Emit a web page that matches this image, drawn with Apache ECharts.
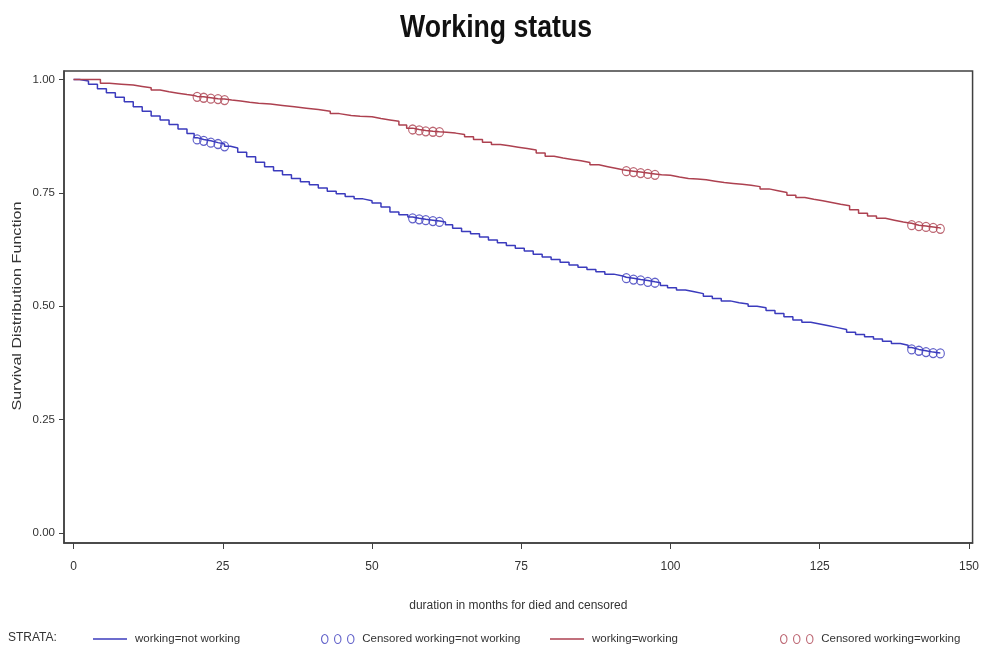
<!DOCTYPE html>
<html>
<head>
<meta charset="utf-8">
<title>Working status</title>
<script src="https://cdn.jsdelivr.net/npm/echarts@6/dist/echarts.min.js"></script>
<style>
  html, body { margin: 0; padding: 0; background: #ffffff; }
  #chart { width: 982px; height: 652px; }
</style>
</head>
<body>
<div id="chart"></div>
<script>
// Kaplan-Meier survival estimates by working status (months, survival probability)
const notWorkingMonths = [0, 1, 2.5, 4, 5.5, 7, 8.5, 10, 11.5, 13, 14.5, 16, 17.5, 19, 20.2,
  26.3, 27.5, 29, 30.5, 32, 33.5, 35, 36.5, 38, 39.5, 41, 42.5, 44, 45.5, 47, 48.5, 50, 51.5, 53, 54.5, 56,
  62.3, 63.5, 65, 66.5, 68, 69.5, 71, 72.5, 74, 75.5, 77, 78.5, 80, 81.5, 83, 84.5, 86, 87.5, 89, 90.5, 92,
  98.3, 99.5, 101, 102.5, 104, 105.5, 107, 108.5, 110, 111.5, 113, 114.5, 116, 117.5, 119, 120.5, 122, 123.5,
  125, 126.5, 128, 129.5, 131, 132.5, 134, 135.5, 137, 138.5, 139.8];
const notWorkingSurv = [1.000, 0.997, 0.990, 0.980, 0.971, 0.961, 0.951, 0.940, 0.930, 0.920, 0.911, 0.901, 0.891, 0.881, 0.872,
  0.849, 0.840, 0.830, 0.818, 0.808, 0.799, 0.790, 0.782, 0.775, 0.768, 0.761, 0.754, 0.748, 0.742, 0.737, 0.733, 0.728, 0.719, 0.708, 0.702, 0.697,
  0.680, 0.672, 0.665, 0.660, 0.653, 0.646, 0.640, 0.634, 0.628, 0.622, 0.615, 0.609, 0.603, 0.597, 0.591, 0.586, 0.581, 0.576, 0.571, 0.567, 0.564,
  0.546, 0.541, 0.536, 0.532, 0.528, 0.522, 0.517, 0.512, 0.508, 0.505, 0.500, 0.497, 0.491, 0.484, 0.477, 0.470, 0.465, 0.461,
  0.457, 0.453, 0.449, 0.443, 0.438, 0.433, 0.428, 0.423, 0.418, 0.414, 0.409];
const notWorkingCensMonths = [20.7, 21.8, 23.0, 24.2, 25.3, 56.8, 57.9, 59.0, 60.2, 61.3,
  92.6, 93.8, 95.0, 96.2, 97.4, 140.4, 141.6, 142.8, 144.0, 145.2];
const notWorkingCensSurv = [0.868, 0.865, 0.861, 0.858, 0.853, 0.694, 0.692, 0.690, 0.688, 0.686,
  0.562, 0.559, 0.557, 0.554, 0.552, 0.405, 0.402, 0.399, 0.397, 0.396];

const workingMonths = [0, 4, 4.5, 6, 8, 10, 11.5, 13, 14.5, 16, 17.5, 19, 20.2,
  26.5, 28, 29.5, 31, 33, 35, 37, 39, 41, 43, 44.5, 46.5, 48, 50, 51.5, 53, 54.5, 55.8,
  62.5, 64, 65.5, 67, 68.5, 70, 71.5, 73, 74.5, 76, 77.5, 79, 80.5, 82, 83.5, 85, 86.5, 88, 89.5, 91, 92,
  98.5, 100, 101.5, 103, 104.5, 106, 107.5, 109, 110.5, 112, 113.5, 115, 116.5, 118, 119.5, 121, 122.5,
  124, 125.5, 127, 128.5, 130, 131.5, 133, 134.5, 136, 137.5, 139, 140];
const workingSurv = [1.000, 1.000, 0.992, 0.990, 0.988, 0.985, 0.982, 0.977, 0.973, 0.970, 0.967, 0.965, 0.963,
  0.953, 0.950, 0.948, 0.946, 0.943, 0.940, 0.937, 0.934, 0.930, 0.925, 0.921, 0.919, 0.918, 0.914, 0.911, 0.908, 0.900, 0.893,
  0.882, 0.879, 0.874, 0.868, 0.862, 0.857, 0.854, 0.851, 0.848, 0.845, 0.838, 0.831, 0.827, 0.824, 0.821, 0.817, 0.812, 0.808, 0.804, 0.801, 0.800,
  0.789, 0.785, 0.782, 0.781, 0.779, 0.776, 0.773, 0.771, 0.769, 0.767, 0.764, 0.759, 0.755, 0.751, 0.745, 0.740, 0.736,
  0.733, 0.729, 0.725, 0.722, 0.713, 0.705, 0.699, 0.694, 0.690, 0.686, 0.684, 0.683];
const workingCensMonths = [20.7, 21.8, 23.0, 24.2, 25.3, 56.8, 57.9, 59.0, 60.2, 61.3,
  92.6, 93.8, 95.0, 96.2, 97.4, 140.4, 141.6, 142.8, 144.0, 145.2];
const workingCensSurv = [0.962, 0.960, 0.958, 0.957, 0.955, 0.890, 0.888, 0.886, 0.885, 0.884,
  0.798, 0.796, 0.794, 0.792, 0.790, 0.679, 0.677, 0.675, 0.673, 0.671];

const xTicks = [0, 25, 50, 75, 100, 125, 150];
const yTicks = [0, 0.25, 0.5, 0.75, 1];

const BLUE = '#3b3bbd';
const RED = '#ad4150';
const AXIS = '#404040';
const TEXT = '#333333';
const SANS = '"Liberation Sans", Arial, sans-serif';

function pairs(xs, ys) { return xs.map((x, i) => [x, ys[i]]); }
// step curve passes through both event and censoring times
function curve(tx, ty, cx, cy) {
  return pairs(tx, ty).concat(pairs(cx, cy)).sort((a, b) => a[0] - b[0]);
}

const threeCircles = 'path://M0,4.5a3.2,4.5 0 1,0 6.4,0a3.2,4.5 0 1,0 -6.4,0M13,4.5a3.2,4.5 0 1,0 6.4,0a3.2,4.5 0 1,0 -6.4,0M26,4.5a3.2,4.5 0 1,0 6.4,0a3.2,4.5 0 1,0 -6.4,0';

function legendItem(left, name, icon, w, h, style) {
  return {
    left: left, top: 628, orient: 'horizontal', itemWidth: w, itemHeight: h,
    data: [{ name: name, icon: icon, itemStyle: style }],
    selectedMode: false,
    textStyle: { fontFamily: SANS, fontSize: 11.5, color: TEXT, padding: [0, 0, 0, 3] }
  };
}

const chart = echarts.init(document.getElementById('chart'), null, { renderer: 'canvas' });
chart.setOption({
  animation: false,
  backgroundColor: '#ffffff',
  grid: { left: 64, top: 71, right: 8, bottom: 109, show: true, borderColor: AXIS, borderWidth: 1.5, containLabel: false },
  xAxis: {
    type: 'value', min: -1.6, max: 150.6,
    name: 'duration in months for died and censored', nameLocation: 'middle', nameGap: 57,
    nameTextStyle: { fontFamily: SANS, fontSize: 12, color: TEXT },
    axisLine: { show: true, onZero: false, lineStyle: { color: AXIS, width: 1.5 } },
    axisTick: { show: true, inside: false, length: 6, customValues: xTicks, lineStyle: { color: AXIS } },
    axisLabel: { customValues: xTicks, margin: 18, fontFamily: SANS, fontSize: 12, color: TEXT },
    splitLine: { show: false }
  },
  yAxis: {
    type: 'value', min: -0.022, max: 1.019,
    axisLine: { show: true, onZero: false, lineStyle: { color: AXIS, width: 1.5 } },
    axisTick: { show: true, inside: false, length: 5, customValues: yTicks, lineStyle: { color: AXIS } },
    axisLabel: { customValues: yTicks, margin: 9, fontFamily: SANS, fontSize: 11.5, color: TEXT,
      formatter: v => v.toFixed(2) },
    splitLine: { show: false }
  },
  legend: [
    legendItem(88, 'working=not working', 'rect', 34, 1.5, { color: BLUE }),
    legendItem(316, 'Censored working=not working', threeCircles, 33, 9, { color: 'transparent', borderColor: BLUE, borderWidth: 1.1 }),
    legendItem(545, 'working=working', 'rect', 34, 1.5, { color: RED }),
    legendItem(775, 'Censored working=working', threeCircles, 33, 9, { color: 'transparent', borderColor: RED, borderWidth: 1.1 })
  ],
  graphic: [
    {
      // condensed bold title
      type: 'text', x: 496, y: 28, scaleX: 0.86,
      style: { text: 'Working status', font: 'bold 31px ' + SANS, fill: '#111', align: 'center', verticalAlign: 'middle' }
    },
    {
      // y-axis title, rotated and stretched along its length
      type: 'text', x: 18, y: 306, rotation: Math.PI / 2, scaleX: 1.29,
      style: { text: 'Survival Distribution Function', font: '12.5px ' + SANS, fill: TEXT, align: 'center', verticalAlign: 'middle' }
    },
    {
      type: 'text', left: 8, top: 632,
      style: { text: 'STRATA:', font: '12px ' + SANS, fill: TEXT }
    }
  ],
  series: [
    {
      name: 'working=not working', type: 'line', step: 'end', showSymbol: false,
      data: curve(notWorkingMonths, notWorkingSurv, notWorkingCensMonths, notWorkingCensSurv),
      lineStyle: { color: BLUE, width: 1.5 }, itemStyle: { color: BLUE }
    },
    {
      name: 'Censored working=not working', type: 'scatter', symbol: 'circle', symbolSize: [8, 9],
      data: pairs(notWorkingCensMonths, notWorkingCensSurv),
      itemStyle: { color: 'transparent', borderColor: BLUE, borderWidth: 1.2 }
    },
    {
      name: 'working=working', type: 'line', step: 'end', showSymbol: false,
      data: curve(workingMonths, workingSurv, workingCensMonths, workingCensSurv),
      lineStyle: { color: RED, width: 1.5 }, itemStyle: { color: RED }
    },
    {
      name: 'Censored working=working', type: 'scatter', symbol: 'circle', symbolSize: [8, 9],
      data: pairs(workingCensMonths, workingCensSurv),
      itemStyle: { color: 'transparent', borderColor: RED, borderWidth: 1.2 }
    }
  ]
});
</script>
</body>
</html>
